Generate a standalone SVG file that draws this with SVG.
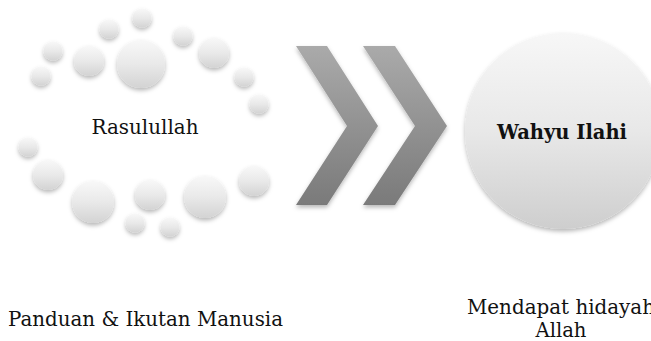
<svg xmlns="http://www.w3.org/2000/svg" width="651" height="341" viewBox="0 0 651 341">
<defs>
<linearGradient id="ball" x1="0" y1="0" x2="0" y2="1">
<stop offset="0" stop-color="#f8f8f8"/>
<stop offset="0.5" stop-color="#e9e9e9"/>
<stop offset="1" stop-color="#d3d3d3"/>
</linearGradient>
<linearGradient id="big" x1="0" y1="0" x2="0" y2="1">
<stop offset="0" stop-color="#f7f7f7"/>
<stop offset="0.5" stop-color="#e8e8e8"/>
<stop offset="1" stop-color="#cecece"/>
</linearGradient>
<linearGradient id="chev" x1="0" y1="0" x2="0" y2="1">
<stop offset="0" stop-color="#aaaaaa"/>
<stop offset="1" stop-color="#7a7a7a"/>
</linearGradient>
<filter id="sh" x="-30%" y="-30%" width="160%" height="170%">
<feDropShadow dx="0" dy="2.5" stdDeviation="2" flood-color="#000" flood-opacity="0.28"/>
</filter>
<style>
.b{fill:url(#ball);filter:url(#sh)}
.t{font-family:"DejaVu Serif","Liberation Serif",serif;fill:#111}
</style>
</defs>
<rect width="651" height="341" fill="#fff"/>
<g id="rasulullah">
<circle class="b" cx="142" cy="18" r="9.5"/>
<circle class="b" cx="109" cy="29" r="9.5"/>
<circle class="b" cx="183" cy="36" r="9.5"/>
<circle class="b" cx="53" cy="51" r="9.5"/>
<circle class="b" cx="89" cy="61" r="15"/>
<circle class="b" cx="141" cy="64" r="24"/>
<circle class="b" cx="214" cy="53" r="15"/>
<circle class="b" cx="41" cy="76" r="9.5"/>
<circle class="b" cx="244" cy="77" r="9.5"/>
<circle class="b" cx="259" cy="104" r="9.5"/>
<circle class="b" cx="28" cy="147" r="9.5"/>
<circle class="b" cx="48" cy="175" r="15"/>
<circle class="b" cx="93" cy="202" r="21"/>
<circle class="b" cx="150" cy="195" r="15"/>
<circle class="b" cx="205" cy="197" r="21"/>
<circle class="b" cx="254" cy="181" r="15"/>
<circle class="b" cx="135" cy="223" r="9.5"/>
<circle class="b" cx="170" cy="227" r="9.5"/>
<text class="t" x="145" y="134" font-size="20" text-anchor="middle" textLength="107" lengthAdjust="spacingAndGlyphs">Rasulullah</text>
</g>
<g id="connectors">
<path d="M296,46 L327,46 L378,126 L327,205 L296,205 L347,126 Z" fill="url(#chev)" filter="url(#sh)"/>
<path d="M363,46 L395,46 L447,126 L395,205 L363,205 L415,126 Z" fill="url(#chev)" filter="url(#sh)"/>
</g>
<g id="wahyu">
<circle cx="563" cy="131" r="98" fill="url(#big)" filter="url(#sh)"/>
<text class="t" x="562" y="139" font-size="21" font-weight="bold" text-anchor="middle" textLength="130" lengthAdjust="spacingAndGlyphs">Wahyu Ilahi</text>
</g>
<g id="labels">
<text class="t" x="145.5" y="326" font-size="21" text-anchor="middle" textLength="275" lengthAdjust="spacingAndGlyphs">Panduan &amp; Ikutan Manusia</text>
<text class="t" x="561" y="314" font-size="21" text-anchor="middle" textLength="188" lengthAdjust="spacingAndGlyphs">Mendapat hidayah</text>
<text class="t" x="561" y="337" font-size="21" text-anchor="middle" textLength="51" lengthAdjust="spacingAndGlyphs">Allah</text>
</g>
</svg>
